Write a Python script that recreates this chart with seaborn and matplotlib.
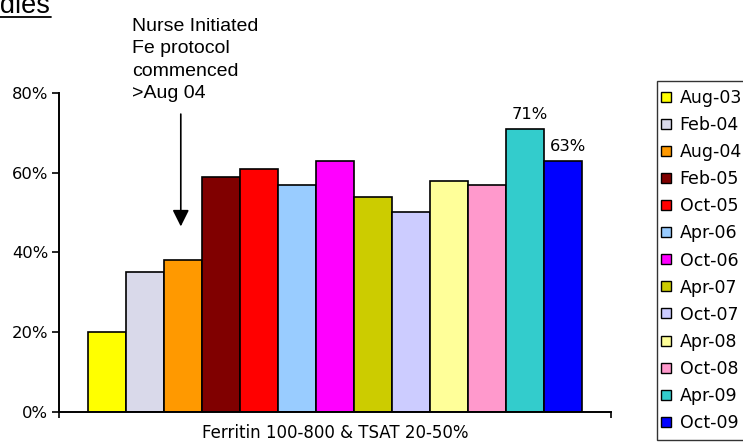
#
# plot.py
#   - Iron studies: % of patients within ferritin / TSAT target, by survey.
#

import numpy as np
import pandas as pd
import seaborn as sns
import matplotlib.pyplot as plt
from matplotlib.lines import Line2D
from matplotlib.ticker import PercentFormatter

group = "Ferritin 100-800 & TSAT 20-50%"
surveys = ["Aug-03", "Feb-04", "Aug-04", "Feb-05", "Oct-05", "Apr-06", "Oct-06",
           "Apr-07", "Oct-07", "Apr-08", "Oct-08", "Apr-09", "Oct-09"]
values = [0.20, 0.35, 0.38, 0.59, 0.61, 0.57, 0.63, 0.54, 0.50, 0.58, 0.57, 0.71, 0.63]
colors = ["#FFFF00", "#D9D9EA", "#FF9900", "#800000", "#FF0000", "#99CCFF", "#FF00FF",
          "#CCCC00", "#CCCCFF", "#FFFF99", "#FF99CC", "#33CCCC", "#0000FF"]
labelled = ["Apr-09", "Oct-09"]
yticks = [0.0, 0.2, 0.4, 0.6, 0.8]
note = "Nurse Initiated\nFe protocol\ncommenced\n>Aug 04"
note_at = "Aug-04"


def main():
    sns.set_style("white")
    plt.rcParams["font.family"] = ["DejaVu Sans"]
    plt.rcParams["text.color"] = "black"
    plt.rcParams["xtick.color"] = "black"
    plt.rcParams["ytick.color"] = "black"

    df = pd.DataFrame({"group": [group] * len(surveys), "survey": surveys, "value": values})

    fig = plt.figure(figsize=(7.43, 4.43), dpi=100)
    ax = fig.add_axes([0.079, 0.0707, 0.7433, 0.7194])

    sns.barplot(data=df, x="group", y="value", hue="survey", hue_order=surveys,
                palette=colors, saturation=1, width=0.8935, edgecolor="black",
                linewidth=1.2, legend=False, ax=ax)

    ax.set_xlim(-0.5, 0.5)
    ax.set_ylim(0, 0.8)
    ax.set_yticks(yticks)
    ax.yaxis.set_major_formatter(PercentFormatter(1.0, decimals=0))
    ax.set_xlabel("")
    ax.set_ylabel("")

    sns.despine(ax=ax)
    for s in ["left", "bottom"]:
        ax.spines[s].set_color("black")
        ax.spines[s].set_linewidth(1.4)

    ax.tick_params(axis="y", direction="out", length=5, width=1.2, pad=2.5,
                   labelsize=11.8, colors="black", left=True)
    ax.tick_params(axis="x", which="major", length=0, pad=9, labelsize=12, labelcolor="black")
    ax.set_xticks([-0.5, 0.5], minor=True)
    ax.tick_params(axis="x", which="minor", direction="out", length=4, width=1.2,
                   bottom=True, color="black")

    # value labels on the latest two surveys
    for name, cont in zip(surveys, ax.containers):
        bar = cont.patches[0]
        cx = bar.get_x() + bar.get_width() / 2
        if name in labelled:
            ax.annotate(f"{bar.get_height() * 100:.0f}%", (cx, bar.get_height()),
                        xytext=(4, 5), textcoords="offset points",
                        ha="center", va="bottom", fontsize=11.8, zorder=1)
        if name == note_at:
            ax.annotate("", xy=(cx - 0.004, 0.465), xytext=(cx - 0.004, 0.747),
                        arrowprops=dict(arrowstyle="-|>", mutation_scale=25, lw=1.2,
                                        color="black", shrinkA=0, shrinkB=0))

    fig.text(131.7 / 743, 1 - 18 / 443, note, ha="left", va="top", fontsize=14,
             family="Liberation Sans", linespacing=1.42)

    # cut-off slide title
    fig.text(50 / 743, 1 - 13 / 443, "Iron Studies", ha="right", va="baseline",
             fontsize=19.5, family="Liberation Sans")
    fig.add_artist(Line2D([0, 51 / 743], [1 - 16.5 / 443] * 2, color="black", lw=1.3))

    handles = [Line2D([], [], marker="s", linestyle="", markersize=6.5,
                      markerfacecolor=c, markeredgecolor="black", markeredgewidth=1.0)
               for c in colors]
    leg = fig.legend(handles, surveys, loc="upper left",
                     bbox_to_anchor=(656.7 / 743, 1 - 81 / 443),
                     fontsize=12.5, frameon=True, fancybox=False, borderpad=0.48,
                     labelspacing=0.52, handlelength=0.1, handletextpad=0.74,
                     borderaxespad=0, labelcolor="black")
    leg.get_frame().set_edgecolor("black")
    leg.get_frame().set_linewidth(1.0)

    plt.savefig("out.png", dpi=100)


if __name__ == '__main__':
    main()
